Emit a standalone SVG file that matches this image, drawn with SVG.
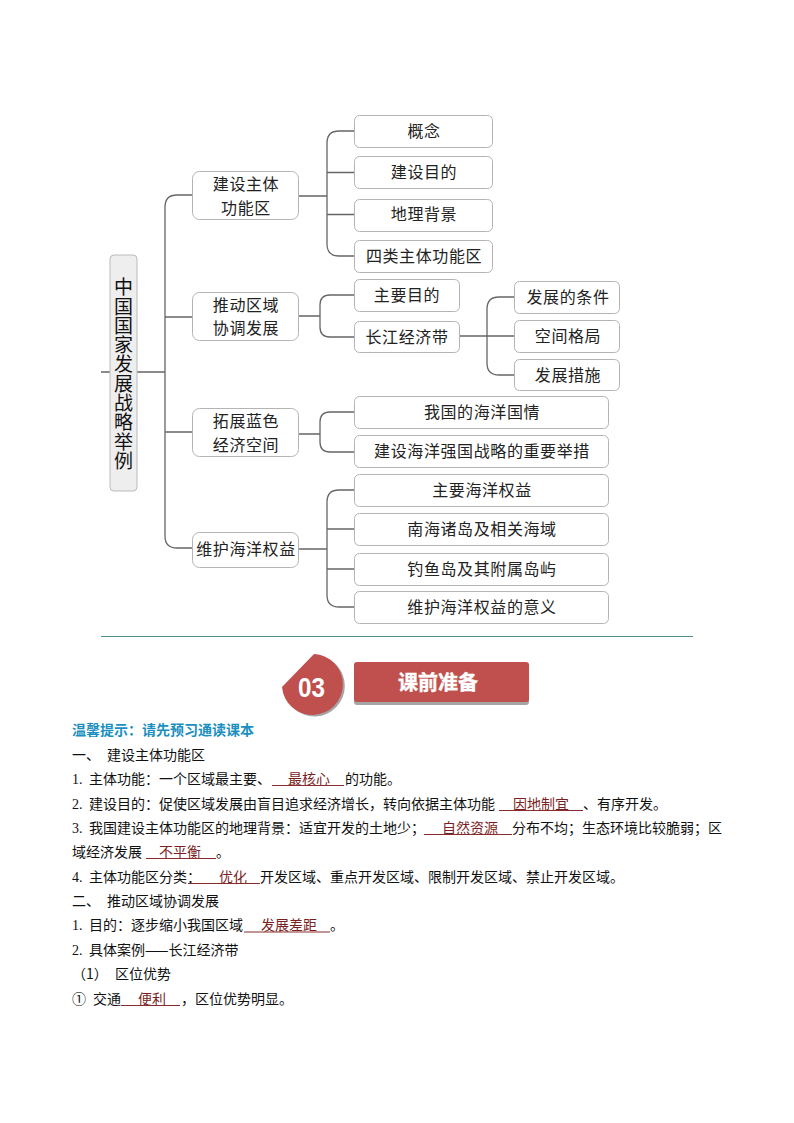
<svg xmlns="http://www.w3.org/2000/svg" width="794" height="1123" viewBox="0 0 794 1123">
<style>
.n{fill:#fff;stroke:#b4b4b4;stroke-width:1}
.t{font-family:"Noto Sans CJK SC","Liberation Sans",sans-serif;font-size:16px;letter-spacing:.6px;fill:#222;text-anchor:middle}
.c{fill:none;stroke:#666;stroke-width:1.3}
.b{font-family:"Noto Sans CJK SC",sans-serif;font-size:14px;fill:#111}
.s{font-family:"Liberation Serif",serif;font-size:14px;fill:#111}
.a{fill:#7a1f1f}
.u{stroke:#8a2c2c;stroke-width:1;fill:none}
</style>
<rect width="794" height="1123" fill="#fff"/>
<g id="connectors">
<path class="c" d="M101 372H165M165 207Q165 195 177 195H193M165 317H193M165 432H193M165 207V536Q165 548 177 548H193"/>
<path class="c" d="M298 196H327M355 131H339Q327 131 327 143V244Q327 256 339 256H355M327 172.500H355M327 214.500H355"/>
<path class="c" d="M298 316H320M354 295H330Q320 295 320 305V327Q320 337 330 337H354"/>
<path class="c" d="M459 336H487M514 297H499Q487 297 487 309V363Q487 375 499 375H514M487 336H514"/>
<path class="c" d="M298 434H320M354 412H330Q320 412 320 422V442Q320 452 330 452H354"/>
<path class="c" d="M298 549H327M354 490H339Q327 490 327 502V595Q327 607 339 607H354M327 529H354M327 569H354"/>
</g>
<g id="root"><rect x="110" y="255" width="27" height="236" rx="4" fill="#eee" stroke="#bbb"/>
<text x="123.500" y="374" style="writing-mode:vertical-rl;font-family:'Noto Sans CJK SC',sans-serif;font-size:19px;letter-spacing:.3px;text-anchor:middle;fill:#111">中国国家发展战略举例</text></g>
<g id="n1"><rect class="n" x="192.500" y="171.500" width="106" height="48" rx="7"/><text class="t" x="246" y="190">建设主体</text><text class="t" x="246" y="214">功能区</text></g>
<g id="n2"><rect class="n" x="192.500" y="292.500" width="106" height="48" rx="7"/><text class="t" x="246" y="311">推动区域</text><text class="t" x="246" y="334">协调发展</text></g>
<g id="n3"><rect class="n" x="192.500" y="408.500" width="106" height="48" rx="7"/><text class="t" x="246" y="427">拓展蓝色</text><text class="t" x="246" y="451">经济空间</text></g>
<g id="n4"><rect class="n" x="192.500" y="532.500" width="106" height="35" rx="7"/><text class="t" x="246" y="555">维护海洋权益</text></g>
<g id="n11"><rect class="n" x="354.500" y="115.500" width="138" height="32" rx="5"/><text class="t" x="424" y="137">概念</text></g>
<g id="n12"><rect class="n" x="354.500" y="156.500" width="138" height="32" rx="5"/><text class="t" x="424" y="178">建设目的</text></g>
<g id="n13"><rect class="n" x="354.500" y="199.500" width="138" height="32" rx="5"/><text class="t" x="424" y="220">地理背景</text></g>
<g id="n14"><rect class="n" x="354.500" y="240.500" width="138" height="32" rx="5"/><text class="t" x="424" y="262">四类主体功能区</text></g>
<g id="n21"><rect class="n" x="354.500" y="279.500" width="105" height="32" rx="5"/><text class="t" x="407" y="301">主要目的</text></g>
<g id="n22"><rect class="n" x="354.500" y="321.500" width="105" height="31" rx="5"/><text class="t" x="407" y="343">长江经济带</text></g>
<g id="n221"><rect class="n" x="514.500" y="281.500" width="105" height="32" rx="5"/><text class="t" x="568" y="303">发展的条件</text></g>
<g id="n222"><rect class="n" x="514.500" y="320.500" width="105" height="32" rx="5"/><text class="t" x="568" y="342">空间格局</text></g>
<g id="n223"><rect class="n" x="514.500" y="359.500" width="105" height="31" rx="5"/><text class="t" x="568" y="381">发展措施</text></g>
<g id="n31"><rect class="n" x="354.500" y="396.500" width="254" height="32" rx="5"/><text class="t" x="482" y="418">我国的海洋国情</text></g>
<g id="n32"><rect class="n" x="354.500" y="435.500" width="254" height="32" rx="5"/><text class="t" x="482" y="457">建设海洋强国战略的重要举措</text></g>
<g id="n41"><rect class="n" x="354.500" y="474.500" width="254" height="32" rx="5"/><text class="t" x="482" y="496">主要海洋权益</text></g>
<g id="n42"><rect class="n" x="354.500" y="513.500" width="254" height="32" rx="5"/><text class="t" x="482" y="535">南海诸岛及相关海域</text></g>
<g id="n43"><rect class="n" x="354.500" y="553.500" width="254" height="32" rx="5"/><text class="t" x="482" y="575">钓鱼岛及其附属岛屿</text></g>
<g id="n44"><rect class="n" x="354.500" y="591.500" width="254" height="32" rx="5"/><text class="t" x="482" y="613">维护海洋权益的意义</text></g>
<line x1="101" y1="636.500" x2="693" y2="636.500" stroke="#4d8f8f" stroke-width="1"/>
<g id="badge">
<path d="M315 655.500A30.500 30.500 0 1 1 283 689Z" fill="#a5a5a5" transform="translate(1 0)"/>
<path d="M314 654A30.500 30.500 0 1 1 282 687Z" fill="#c0504d"/>
<text x="298" y="697" font-family="Liberation Sans,sans-serif" font-weight="bold" font-size="28" fill="#fff" textLength="27" lengthAdjust="spacingAndGlyphs">03</text>
</g>
<g id="banner">
<rect x="354" y="664" width="175" height="41" rx="3" fill="#a5a5a5"/>
<rect x="354" y="662" width="175" height="40" rx="3" fill="#c0504d"/>
<text x="438" y="690" font-family="Noto Sans CJK SC,sans-serif" font-weight="bold" font-size="20" fill="#fff" text-anchor="middle" stroke="#fff" stroke-width=".4">课前准备</text>
</g>
<g id="body">
<text x="72" y="735" font-family="Noto Sans CJK SC,sans-serif" font-weight="bold" font-size="14" fill="#1a8fc0" textLength="182">温馨提示：请先预习通读课本</text>
<text class="b" x="72" y="760">一、</text><text class="b" x="107" y="760">建设主体功能区</text>
<text class="s" x="72" y="784">1.</text><text class="b" x="89" y="784">主体功能：一个区域最主要、</text><text class="b a" x="288" y="784">最核心</text><line class="u" x1="272" y1="785.500" x2="344" y2="785.500"/><text class="b" x="345" y="784">的功能。</text>
<text class="s" x="72" y="809">2.</text><text class="b" x="89" y="809">建设目的：促使区域发展由盲目追求经济增长，转向依据主体功能</text><text class="b a" x="513" y="809">因地制宜</text><line class="u" x1="499" y1="810.500" x2="583" y2="810.500"/><text class="b" x="583" y="809">、有序开发。</text>
<text class="s" x="72" y="833">3.</text><text class="b" x="89" y="833">我国建设主体功能区的地理背景：适宜开发的土地少；</text><text class="b a" x="442" y="833">自然资源</text><line class="u" x1="424" y1="834.500" x2="512" y2="834.500"/><text class="b" x="512" y="833">分布不均；生态环境比较脆弱；区</text>
<text class="b" x="72" y="857">域经济发展</text><text class="b a" x="159" y="857">不平衡</text><line class="u" x1="146" y1="858.500" x2="216" y2="858.500"/><text class="b" x="216" y="857">。</text>
<text class="s" x="72" y="882">4.</text><text class="b" x="89" y="882">主体功能区分类：</text><text class="b a" x="219" y="882">优化</text><line class="u" x1="188" y1="883.500" x2="260" y2="883.500"/><text class="b" x="260" y="882">开发区域、重点开发区域、限制开发区域、禁止开发区域。</text>
<text class="b" x="72" y="906">二、</text><text class="b" x="107" y="906">推动区域协调发展</text>
<text class="s" x="72" y="930">1.</text><text class="b" x="89" y="930">目的：逐步缩小我国区域</text><text class="b a" x="261" y="930">发展差距</text><line class="u" x1="244" y1="932" x2="330" y2="932"/><text class="b" x="330" y="930">。</text>
<text class="s" x="72" y="955">2.</text><text class="b" x="89" y="955">具体案例——长江经济带</text>
<text class="b" x="72" y="979">（1）</text><text class="b" x="115" y="979">区位优势</text>
<text class="b" x="72" y="1004">①</text><text class="b" x="93" y="1004">交通</text><text class="b a" x="138" y="1004">便利</text><line class="u" x1="121" y1="1005.500" x2="180" y2="1005.500"/><text class="b" x="181" y="1004">，区位优势明显。</text>
</g>
</svg>
